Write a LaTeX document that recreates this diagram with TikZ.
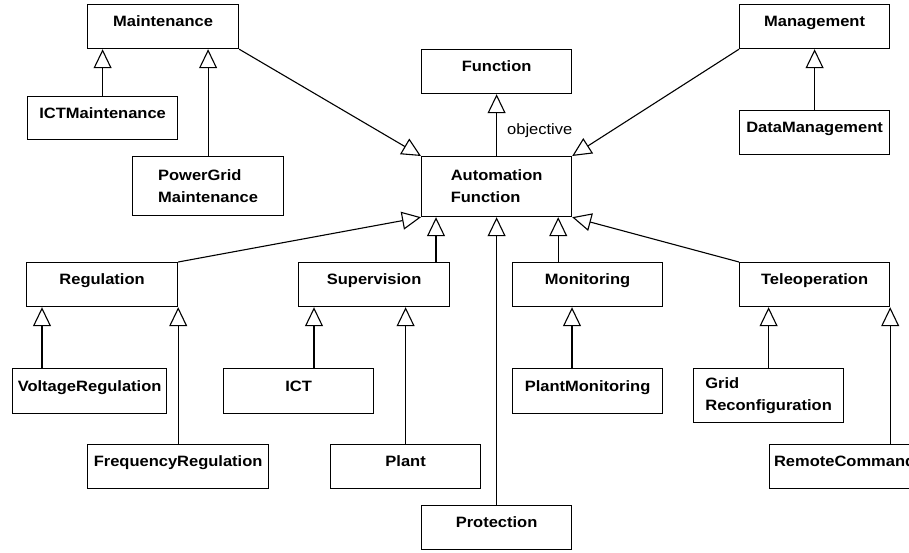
\documentclass[tikz,border=0pt]{standalone}
\usepackage{fontspec}
\setmainfont{Liberation Sans}[FakeStretch=1.1]
\usetikzlibrary{arrows.meta}

\begin{document}
\begin{tikzpicture}[x=1pt,y=-1pt,
  font=\fontsize{15}{22}\selectfont\bfseries,
  classbox/.style={draw, line width=1.2pt, anchor=north west, inner sep=0pt,
    minimum height=44pt, minimum width=150pt, text height=11pt, text depth=11pt},
  twoline/.style={classbox, align=left, text height=, text depth=},
  gen/.style={line width=1.1pt, -{Triangle[open, length=19pt, width=18pt, line width=1.1pt]}}]

\clip (0,0) rectangle (909,552);
\fill[white] (0,0) rectangle (909,552);

% classes
\node[classbox, minimum width=151pt] (maint) at (87,4) {Maintenance};
\node[classbox, minimum height=43pt] (ictm) at (27,96) {ICTMaintenance};
\node[twoline, minimum width=151pt, minimum height=59pt] (pgm) at (132,156) {PowerGrid\\Maintenance};
\node[classbox] (func) at (421,49) {Function};
\node[twoline, minimum height=60pt] (af) at (421,156) {Automation\\Function};
\node[classbox] (mgmt) at (739,4) {Management};
\node[classbox] (dm) at (739,110) {DataManagement};

\node[classbox, minimum width=151pt] (reg) at (26,262) {Regulation};
\node[classbox, minimum width=151pt] (sup) at (298,262) {Supervision};
\node[classbox] (mon) at (512,262) {Monitoring};
\node[classbox] (tele) at (739,262) {Teleoperation};

\node[classbox, minimum width=154pt, minimum height=45pt] (volt) at (12,368) {VoltageRegulation};
\node[classbox, minimum height=45pt] (ict) at (223,368) {ICT};
\node[classbox, minimum height=45pt] (pmon) at (512,368) {PlantMonitoring};
\node[twoline, minimum height=54pt] (grid) at (693,368) {Grid\\Reconfiguration};

\node[classbox, minimum width=181pt] (freq) at (87,444) {FrequencyRegulation};
\node[classbox] (plant) at (330,444) {Plant};
\node[classbox] (rc) at (769,444) {RemoteCommand};
\node[classbox] (prot) at (421,505) {Protection};

% generalisations
\draw[gen] (ictm.north) -- (ictm.north |- maint.south);
\draw[gen] (pgm.north) -- (pgm.north |- maint.south);
\draw[gen] (maint.south east) -- (af.north west);
\draw[gen] (mgmt.south west) -- (af.north east);
\draw[gen] (dm.north) -- (dm.north |- mgmt.south);
\draw[gen] (af.north) -- node[anchor=west, inner sep=0pt, xshift=10pt, pos=0.41, font=\fontsize{15}{18}\selectfont\mdseries] {objective} (func.south);

\draw[gen] (reg.north east) -- (af.south west);
\draw[gen] ([xshift=15pt]af.south west |- sup.north) -- ([xshift=15pt]af.south west);
\draw[gen] (prot.north) -- (af.south);
\draw[gen] ([xshift=-14pt]af.south east |- mon.north) -- ([xshift=-14pt]af.south east);
\draw[gen] (tele.north west) -- (af.south east);

\draw[gen] ([xshift=16pt]reg.south west |- volt.north) -- ([xshift=16pt]reg.south west);
\draw[gen] (reg.south east |- freq.north) -- (reg.south east);
\draw[gen] ([xshift=16pt]sup.south west |- ict.north) -- ([xshift=16pt]sup.south west);
\draw[gen] (plant.north) -- (plant.north |- sup.south);
\draw[gen] ([xshift=60pt]mon.south west |- pmon.north) -- ([xshift=60pt]mon.south west);
\draw[gen] (grid.north) -- (grid.north |- tele.south);
\draw[gen] (tele.south east |- rc.north) -- (tele.south east);
\end{tikzpicture}
\end{document}
